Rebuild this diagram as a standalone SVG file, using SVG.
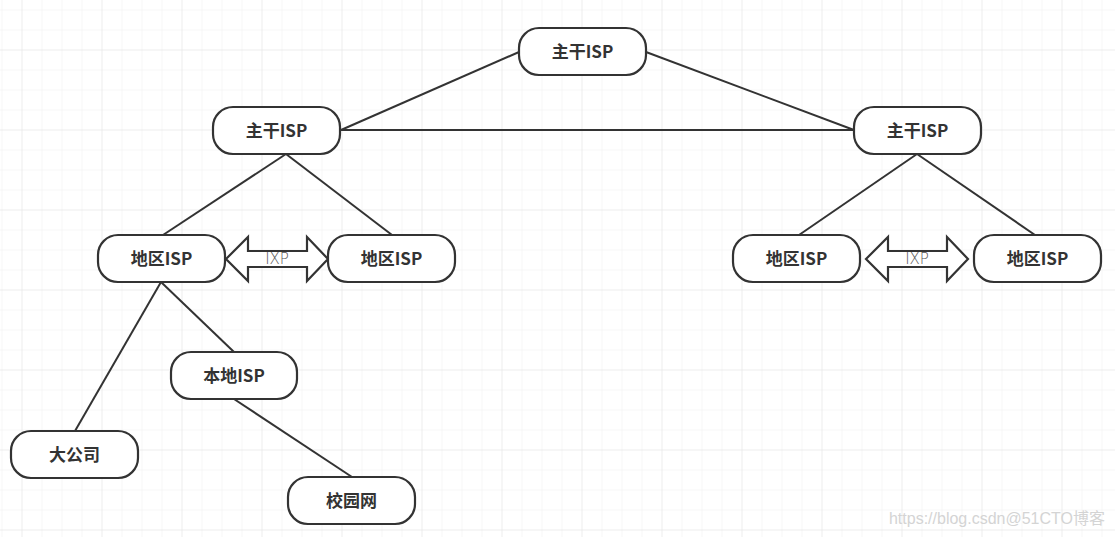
<svg xmlns="http://www.w3.org/2000/svg" width="1115" height="537" viewBox="0 0 1115 537">
<defs>
<pattern id="minor" x="1.5" y="9.5" width="20" height="20" patternUnits="userSpaceOnUse">
<path d="M0 0H20M0 0V20" fill="none" stroke="#f0f0f0" stroke-width="1"/>
</pattern>
<pattern id="major" x="21.5" y="49.5" width="80" height="80" patternUnits="userSpaceOnUse">
<path d="M0 0H80M0 0V80" fill="none" stroke="#e6e6e6" stroke-width="1"/>
</pattern>
</defs>
<style>
.n rect{fill:#fff;stroke:#333;stroke-width:2.2}
.n text{font-family:"Noto Sans CJK SC","Noto Sans",sans-serif;font-weight:bold;font-size:17px;fill:#333;text-anchor:middle;dominant-baseline:central}
.c line{stroke:#333;stroke-width:2}
.arr{fill:#fff;stroke:#333;stroke-width:2.2;stroke-linejoin:miter}
.ixp{font-family:"DejaVu Sans",sans-serif;font-size:15px;fill:#555;text-anchor:middle;font-weight:200}
</style>
<rect width="1115" height="537" fill="#fff"/>
<rect width="1115" height="537" fill="url(#minor)"/>
<rect width="1115" height="537" fill="url(#major)"/>
<g id="connectors" class="c">
<line x1="519" y1="52" x2="341" y2="130"/>
<line x1="646" y1="52" x2="854" y2="130"/>
<line x1="341" y1="130" x2="854" y2="130"/>
<line x1="286" y1="154" x2="163" y2="235"/>
<line x1="286" y1="154" x2="392" y2="235"/>
<line x1="917" y1="154" x2="799" y2="235"/>
<line x1="917" y1="154" x2="1035" y2="235"/>
<line x1="161" y1="282" x2="75" y2="431"/>
<line x1="161" y1="282" x2="234" y2="352"/>
<line x1="234" y1="399" x2="352" y2="477"/>
</g>
<g id="ixp1">
<polygon class="arr" points="226,259 248,237 248,251 307,251 307,237 328,259 307,281 307,267 248,267 248,281"/>
<text class="ixp" x="277" y="264">IXP</text>
</g>
<g id="ixp2">
<polygon class="arr" points="866,259 888,237 888,251 947,251 947,237 968,259 947,281 947,267 888,267 888,281"/>
<text class="ixp" x="917" y="264">IXP</text>
</g>
<g id="top" class="n"><rect x="519" y="28" width="127" height="47" rx="20"/><text x="582.5" y="50">主干ISP</text></g>
<g id="bbL" class="n"><rect x="213" y="107" width="127" height="47" rx="20"/><text x="276.5" y="129">主干ISP</text></g>
<g id="bbR" class="n"><rect x="854" y="107" width="127" height="47" rx="20"/><text x="917.5" y="129">主干ISP</text></g>
<g id="reg1" class="n"><rect x="98" y="235" width="127" height="47" rx="20"/><text x="161.5" y="257">地区ISP</text></g>
<g id="reg2" class="n"><rect x="328" y="235" width="127" height="47" rx="20"/><text x="391.5" y="257">地区ISP</text></g>
<g id="reg3" class="n"><rect x="733" y="235" width="127" height="47" rx="20"/><text x="796.5" y="257">地区ISP</text></g>
<g id="reg4" class="n"><rect x="974" y="235" width="127" height="47" rx="20"/><text x="1037.5" y="257">地区ISP</text></g>
<g id="local" class="n"><rect x="171" y="352" width="126" height="47" rx="20"/><text x="234" y="374">本地ISP</text></g>
<g id="corp" class="n"><rect x="11" y="431" width="127" height="47" rx="20"/><text x="74.5" y="453">大公司</text></g>
<g id="campus" class="n"><rect x="288" y="477" width="127" height="47" rx="20"/><text x="351.5" y="499">校园网</text></g>
<text x="1105" y="524" text-anchor="end" font-family="Liberation Sans,'Noto Sans CJK SC',sans-serif" font-size="16" fill="#d4d4d4">https://blog.csdn@51CTO博客</text>
</svg>
